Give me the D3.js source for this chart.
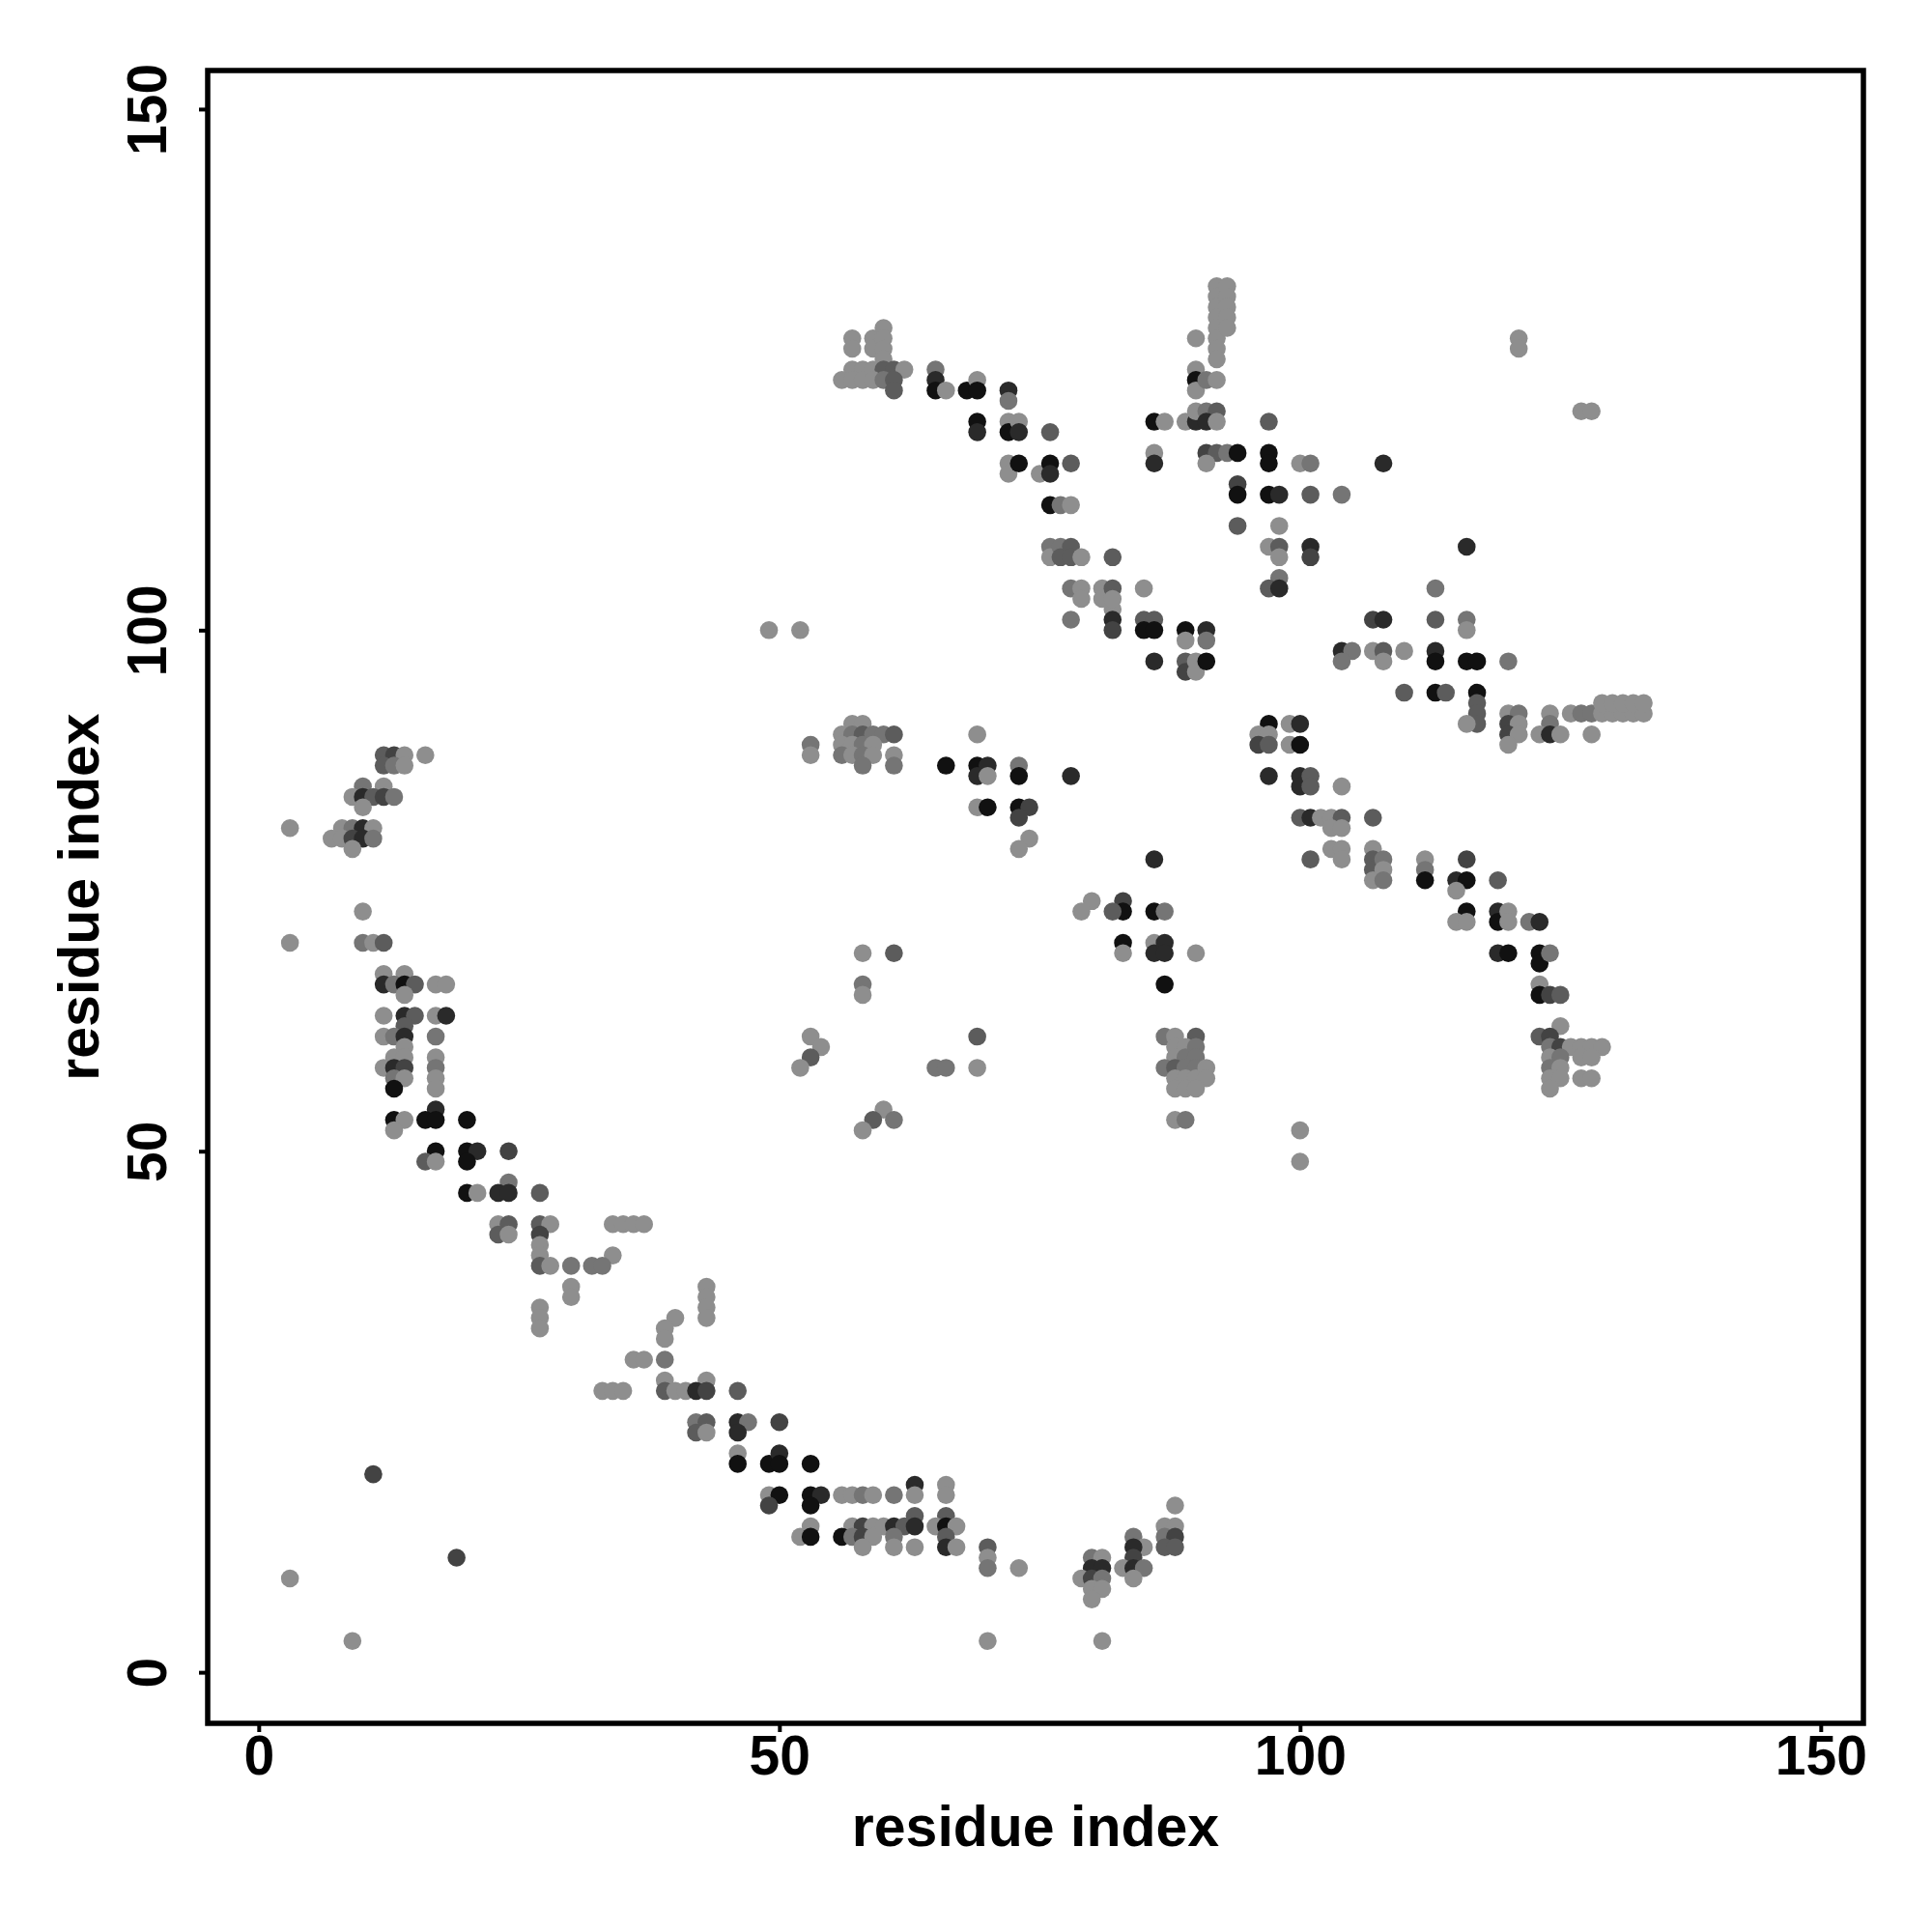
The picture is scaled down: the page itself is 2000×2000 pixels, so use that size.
<!DOCTYPE html>
<html><head><meta charset="utf-8">
<script src="https://cdn.jsdelivr.net/npm/d3@7"></script>
<style>body{margin:0;background:#fff}</style>
</head><body>
<svg id="chart" width="2000" height="2000"></svg>
<script>
// ---- data: [residue i, residue j, contact score (1 = weak/light ... 6 = strong/black)] ----
const xTicks = [0, 50, 100, 150];
const yTicks = [0, 50, 100, 150];
const xTitle = "residue index";
const yTitle = "residue index";

const arcUpperLeft = [
 [12,88,3],[13,88,4],[14,88,1],[16,88,1],
 [12,87,3],[13,87,2],[14,87,1],
 [10,85,2],[12,85,1],
 [9,84,1],[10,84,5],[11,84,3],[12,84,4],[13,84,2],
 [10,83,1],
 [3,81,1],[8,81,1],[9,81,2],[10,81,5],[11,81,1],
 [7,80,1],[8,80,1],[9,80,4],[10,80,5],[11,80,2],
 [9,79,1],[10,73,1],
 [3,70,1],[10,70,2],[11,70,1],[12,70,3]
];
const arcLeft = [
 [12,67,1],[14,67,1],
 [12,66,5],[13,66,2],[14,66,6],[15,66,3],[17,66,1],[18,66,1],
 [14,65,1],
 [12,63,1],[14,63,5],[15,63,3],[17,63,1],[18,63,5],
 [14,62,3],
 [12,61,1],[13,61,2],[14,61,5],[17,61,2],
 [14,60,1],
 [13,59,1],[14,59,1],[17,59,1],
 [12,58,1],[13,58,5],[14,58,4],[17,58,2],
 [13,57,2],[14,57,1],[17,57,1],
 [13,56,6],[17,56,1],
 [17,54,5],
 [13,53,6],[14,53,1],[16,53,6],[17,53,6],[20,53,6],
 [13,52,1],
 [17,50,6],[20,50,6],[21,50,5],[24,50,4],
 [16,49,3],[17,49,1],[20,49,6],
 [24,47,2],
 [20,46,6],[21,46,1],[23,46,5],[24,46,5],[27,46,3],
 [23,43,1],[24,43,3],[27,43,3],[28,43,1],[34,43,1],[35,43,1],[36,43,1],[37,43,1],
 [23,42,3],[24,42,1],[27,42,4],
 [27,41,1],[27,40,1],[34,40,1],
 [27,39,3],[28,39,1],[30,39,2],[32,39,2],[33,39,2],
 [30,37,1],[30,36,1],
 [27,35,1],[27,34,1],[27,33,1],
 [43,37,1],[43,36,1],[43,35,1],[43,34,1],
 [40,34,1],[39,33,1]
];
const arcBottomLeft = [
 [39,32,1],
 [36,30,1],[37,30,1],[39,30,2],
 [39,28,1],[43,28,1],
 [33,27,1],[34,27,1],[35,27,1],[39,27,3],[40,27,1],[41,27,1],[42,27,5],[43,27,4],
 [42,24,2],[43,24,3],[42,23,3],[43,23,1],
 [11,19,4],[19,11,4],[3,9,1],[9,3,1]
];
const arcBottom = [
 [46,27,3],
 [46,24,5],[47,24,2],[50,24,4],[46,23,5],
 [46,21,1],[46,20,6],[49,20,6],[50,21,5],[50,20,6],[53,20,6],
 [63,18,5],[66,18,1],
 [49,17,1],[50,17,6],[53,17,6],[54,17,5],[56,17,1],[57,17,1],[58,17,2],[59,17,1],[61,17,2],[63,17,1],[66,17,1],
 [49,16,4],[53,16,6],
 [63,15,3],[66,15,3],
 [53,14,1],[57,14,1],[58,14,4],[59,14,1],[60,14,1],[61,14,5],[62,14,3],[63,14,5],[65,14,1],[66,14,6],[67,14,1],
 [52,13,1],[53,13,6],[56,13,6],[57,13,2],[58,13,4],[59,13,1],[61,13,2],[66,13,3],
 [58,12,1],[61,12,1],[63,12,1],[66,12,5],[67,12,1],[70,12,3],
 [70,11,1],[70,10,2],[73,10,1],
 [80,11,2],[81,11,1],[80,10,5],[81,10,5],[79,9,1],[80,9,4],[81,9,2],[80,8,1],[81,8,1],[80,7,1],
 [84,13,2],[85,12,1],[84,12,5],[84,11,4],[83,10,1],[84,10,5],[85,10,2],[84,9,1],
 [88,16,1],[87,14,1],[88,14,1],[87,13,2],[88,13,4],[87,12,3],[88,12,3],
 [70,3,1],[81,3,1]
];
const midLower = [
 [58,66,2],[58,65,1],[87,66,6],
 [53,61,1],[54,60,1],[53,59,3],[52,58,1],
 [65,58,2],[66,58,2],[69,61,3],[69,58,1],
 [60,54,1],[59,53,3],[61,53,2],[58,52,1],
 [87,61,2],[88,61,1],[90,61,3],
 [88,60,1],[89,60,1],[90,60,2],
 [88,59,1],[89,59,2],[90,59,2],
 [87,58,2],[88,58,3],[89,58,2],[90,58,2],[91,58,1],
 [88,57,1],[89,57,1],[90,57,1],[91,57,1],
 [88,56,1],[89,56,1],[90,56,1],
 [88,53,1],[89,53,2]
];
const rightLower = [
 [100,52,1],[100,49,1],
 [123,66,1],[123,65,6],[124,65,4],[125,65,3],
 [125,62,1],[123,61,3],[124,61,4],
 [124,60,2],[125,60,4],[126,60,1],[127,60,1],[128,60,1],[129,60,1],
 [124,59,1],[125,59,2],[127,59,1],[128,59,1],
 [124,58,2],[125,58,1],
 [124,57,1],[125,57,1],[127,57,1],[128,57,1],
 [124,56,1]
];
const midUpper = [
 [49,100,1],[52,100,1],
 [78,101,2],[82,102,1],[82,101,5],[82,100,4],
 [85,101,3],[86,101,3],[85,100,6],[86,100,6],
 [89,100,6],[89,99,1],
 [86,97,5],[89,97,3],[89,96,4],[90,97,1],[90,96,1],
 [53,89,2],[53,88,1],
 [57,91,1],[58,91,1],
 [56,90,1],[57,90,2],[58,90,3],[59,90,2],[60,90,2],[61,90,3],
 [56,89,1],[57,89,1],[58,89,2],[59,89,1],
 [56,88,2],[57,88,1],[58,88,2],[59,88,1],[61,88,1],
 [58,87,2],[61,87,2],
 [69,90,1],
 [66,87,6],[69,87,6],[69,86,5],[70,87,5],[70,86,1],
 [73,87,2],[73,86,6],[78,86,5],
 [69,83,1],[70,83,6],[73,83,6],[74,83,4],[73,82,4],
 [74,80,1],[73,79,1],
 [86,78,5],
 [80,74,1],[79,73,1],[83,74,4],[83,73,6],[82,73,3],[86,73,6],[87,73,2],
 [83,70,6],[83,69,1],[86,70,1],[86,69,5],[87,70,5],[87,69,5],
 [90,69,1],[58,69,1],[61,69,3]
];
const topCluster = [
 [57,128,1],[57,127,1],[59,128,1],[59,127,1],[60,129,1],[60,128,1],[60,127,1],[60,126,1],
 [57,125,1],[58,125,1],[59,125,1],[60,125,3],[61,125,3],[62,125,1],
 [56,124,1],[57,124,1],[58,124,1],[59,124,1],[60,124,2],[61,124,3],
 [61,123,3],
 [65,125,2],[65,124,5],[65,123,6],[66,123,1],
 [68,123,6],[69,124,1],[69,123,6],
 [72,123,5],[72,122,2],
 [69,120,6],[69,119,5],
 [72,120,1],[72,119,6],[73,120,1],[73,119,5],
 [76,119,3],
 [72,116,1],[72,115,1],[73,116,6],[75,115,1],[76,116,6],[76,115,5],[78,116,3],
 [76,112,6],[77,112,2],[78,112,1],
 [76,108,2],[76,107,1],[77,108,2],[77,107,3],[78,108,3],[78,107,3],[79,107,1],
 [82,107,3],
 [78,104,2],[79,104,1],[79,103,1],[81,104,1],[81,103,1],[82,104,3],[82,103,1],[85,104,1],
 [86,120,6],[87,120,1],[89,120,1],[90,120,5],
 [86,117,1],[86,116,5],
 [90,128,1],[90,125,1],[90,124,6],[90,123,1]
];
const topRight = [
 [92,133,1],[92,132,1],[92,131,1],[92,130,1],[92,129,1],[92,128,1],[92,127,1],[92,126,1],
 [93,133,1],[93,132,1],[93,131,1],[93,130,1],[93,129,1],
 [91,124,2],[92,124,1],
 [90,121,1],[91,121,2],[92,121,3],
 [91,120,5],[92,120,1],
 [97,120,3],
 [91,117,4],[92,117,3],[93,117,2],[94,117,6],[91,116,1],
 [97,117,6],[97,116,6],[100,116,1],[101,116,2],[108,116,5],
 [94,114,4],[94,113,6],[97,113,6],[98,113,5],[101,113,3],[104,113,2],
 [94,110,3],[98,110,1],
 [97,108,1],[98,108,3],[98,107,1],[101,108,5],[101,107,4],[116,108,5],
 [98,105,2],[97,104,3],[98,104,5],[113,104,2],
 [121,128,1],[121,127,1],[127,121,1],[128,121,1]
];
const rightUpper = [
 [107,101,4],[108,101,5],[113,101,3],[116,101,2],[116,100,1],
 [91,100,5],[91,99,2],[91,97,6],
 [104,98,5],[105,98,2],[107,98,1],[108,98,3],[110,98,1],[113,98,5],
 [104,97,2],[108,97,1],[113,97,6],[116,97,6],[117,97,6],[120,97,2],
 [110,94,3],[113,94,6],[114,94,3],[117,94,6],
 [117,93,3],[117,92,3],[117,91,3],[116,91,1],
 [120,92,1],[121,92,2],[120,91,4],[121,91,1],[120,90,4],[121,90,1],[120,89,1],
 [124,92,1],[124,91,2],[123,90,1],[124,90,5],[125,90,1],
 [126,92,1],[127,92,2],[128,92,2],[129,92,1],[130,92,1],[131,92,1],[132,92,1],[133,92,1],
 [129,93,1],[130,93,1],[131,93,1],[132,93,1],[133,93,1],
 [128,90,1],
 [97,91,6],[96,90,1],[97,90,1],[96,89,4],[97,89,3],
 [99,91,1],[100,91,5],[99,89,1],[100,89,6],
 [97,86,5],[100,86,5],[100,85,5],[101,86,3],[101,85,3],
 [104,85,1],
 [100,82,3],[101,82,5],[102,82,1],[103,82,1],[104,82,3],
 [107,82,3],
 [103,81,1],[104,81,1],
 [101,78,3],
 [103,79,1],[104,79,1],[104,78,1],
 [107,79,1],[107,78,3],[107,77,3],[107,76,1],[108,78,2],[108,77,1],[108,76,2],
 [112,78,1],[112,77,2],[112,76,6],
 [116,78,4],[115,76,5],[116,76,6],[115,75,1],
 [119,76,3],
 [116,73,6],[115,72,1],[116,72,1],
 [119,73,5],[119,72,6],[120,73,1],[120,72,1],
 [122,72,2],[123,72,5],
 [119,69,5],[120,69,6],
 [123,69,6],[123,68,6],[124,69,2]
];

const contacts = [].concat(arcUpperLeft, arcLeft, arcBottomLeft, arcBottom,
  midLower, rightLower, midUpper, topCluster, topRight, rightUpper);

// ---- drawing ----
const font = "'Liberation Sans', Arial, Helvetica, sans-serif";
const svg = d3.select("#chart");
svg.append("rect").attr("width", 2000).attr("height", 2000).attr("fill", "#fff");

const x = d3.scaleLinear().domain([-4.9, 154.1]).range([215, 1929]);
const y = d3.scaleLinear().domain([-4.9, 153.7]).range([1784, 73]);
const shade = d3.scaleLinear().domain([1, 6]).range(["#8e8e8e", "#111111"]);

svg.append("g").selectAll("circle").data(contacts).join("circle")
  .attr("cx", d => x(d[0])).attr("cy", d => y(d[1]))
  .attr("r", 9.3).attr("fill", d => shade(d[2]));

// frame
const [x0, x1] = x.range();
const [y1, y0] = y.range();
svg.append("rect").attr("x", x0).attr("y", y0)
  .attr("width", x1 - x0).attr("height", y1 - y0)
  .attr("fill", "none").attr("stroke", "#000").attr("stroke-width", 5.5);

// x axis
const gx = svg.append("g").attr("transform", `translate(0,${y1})`)
  .call(d3.axisBottom(x).tickValues(xTicks).tickSize(9).tickPadding(4).tickFormat(d3.format("d")));
gx.select(".domain").remove();
gx.selectAll(".tick line").attr("stroke", "#000").attr("stroke-width", 4);
gx.selectAll(".tick text").attr("font-family", font).attr("font-weight", "bold")
  .attr("font-size", 57).attr("fill", "#000");

// y axis
const gy = svg.append("g").attr("transform", `translate(${x0},0)`)
  .call(d3.axisLeft(y).tickValues(yTicks).tickSize(9).tickFormat(d3.format("d")));
gy.select(".domain").remove();
gy.selectAll(".tick line").attr("stroke", "#000").attr("stroke-width", 4);
gy.selectAll(".tick text")
  .attr("x", 0).attr("y", -43).attr("dy", null)
  .attr("transform", "rotate(-90)")
  .attr("text-anchor", "middle")
  .attr("font-family", font).attr("font-weight", "bold")
  .attr("font-size", 57).attr("fill", "#000");

// titles
svg.append("text").attr("x", (x0 + x1) / 2).attr("y", 1911)
  .attr("text-anchor", "middle").attr("font-family", font).attr("font-weight", "bold")
  .attr("font-size", 59).text(xTitle);
svg.append("text").attr("transform", `translate(102,${(y0 + y1) / 2}) rotate(-90)`)
  .attr("text-anchor", "middle").attr("font-family", font).attr("font-weight", "bold")
  .attr("font-size", 59).text(yTitle);
</script>
</body></html>
